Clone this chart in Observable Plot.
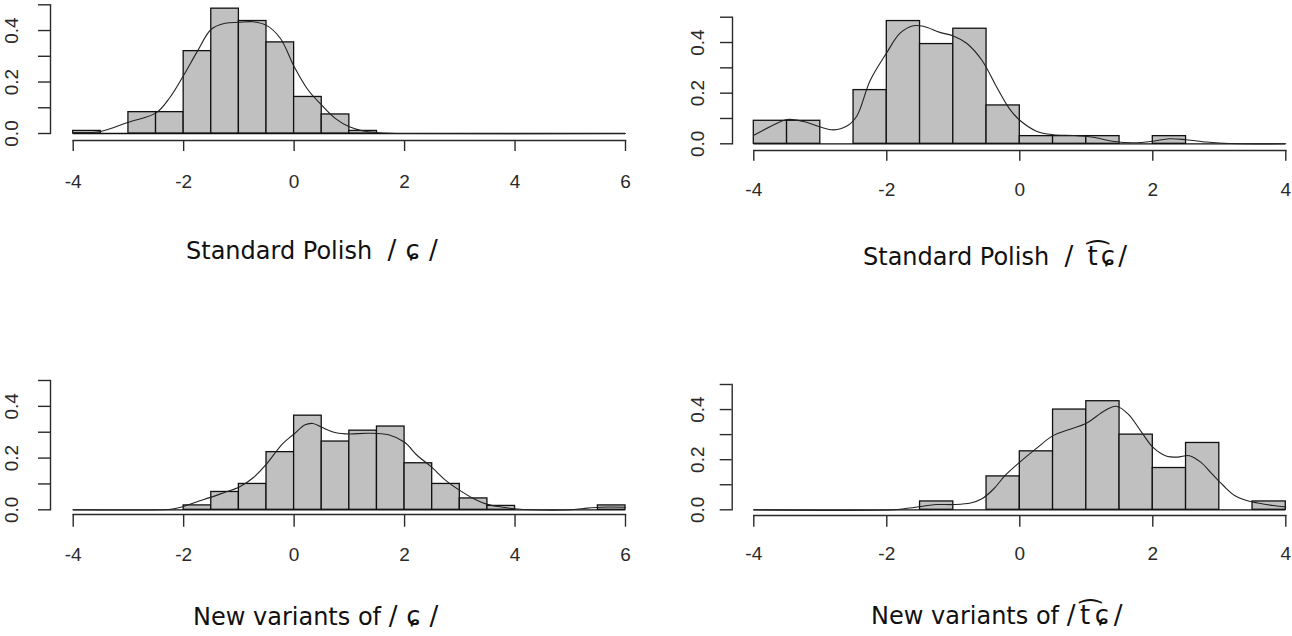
<!DOCTYPE html>
<html>
<head>
<meta charset="utf-8">
<script src="https://cdn.jsdelivr.net/npm/d3@7"></script>
<script src="https://cdn.jsdelivr.net/npm/@observablehq/plot@0.6"></script>
<style>
html, body { margin: 0; padding: 0; background: #fff; }
#root { position: relative; width: 1292px; height: 636px; overflow: hidden; background: #fff; }
.panel { position: absolute; }
.title { position: absolute; white-space: pre; font-family: "DejaVu Sans", sans-serif; font-size: 24px; line-height: 1; color: #111; }
.ipa { font-size: 26px; }
</style>
</head>
<body>
<div id="root"></div>
<script>
// ---------- data ----------
const breaksWide = [-4, -3.5, -3, -2.5, -2, -1.5, -1, -0.5, 0, 0.5, 1, 1.5, 2, 2.5, 3, 3.5, 4, 4.5, 5, 5.5, 6];
const breaksNarrow = [-4, -3.5, -3, -2.5, -2, -1.5, -1, -0.5, 0, 0.5, 1, 1.5, 2, 2.5, 3, 3.5, 4];

const xTicksWide = [-4, -2, 0, 2, 4, 6];
const xTicksNarrow = [-4, -2, 0, 2, 4];
const yTicks = [0, 0.1, 0.2, 0.3, 0.4, 0.5];
const yTickLabels = [0, 0.2, 0.4];

const titleWords = ["Standard Polish  ", "Standard Polish  ", "New variants of ", "New variants of "];
const titleIPA = ["/\u0255/", "/ t\u0361\u0255/", "/\u0255/", "/t\u0361\u0255/"];

// histogram densities (one value per bin)
const histStdS = [0.01, 0, 0.083, 0.083, 0.32, 0.485, 0.437, 0.354, 0.142, 0.074, 0.01, 0, 0, 0, 0, 0, 0, 0, 0, 0];
const histStdTS = [0.0909, 0.0909, 0, 0.2121, 0.4848, 0.3939, 0.4545, 0.1515, 0.0303, 0.0303, 0.0303, 0, 0.0303, 0, 0, 0];
const histNewS = [0, 0, 0, 0, 0.017, 0.069, 0.10, 0.223, 0.364, 0.264, 0.306, 0.322, 0.18, 0.10, 0.044, 0.015, 0, 0, 0, 0.017];
const histNewTS = [0, 0, 0, 0, 0, 0.0333, 0, 0.1333, 0.2333, 0.4, 0.4333, 0.3, 0.1667, 0.2667, 0, 0.0333];

// kernel density curves
const densStdSX = [-4, -3.5, -3, -2.5, -2.25, -2, -1.75, -1.5, -1.25, -1, -0.75, -0.5, -0.25, 0, 0.25, 0.5, 0.75, 1, 1.25, 1.5, 1.75, 2, 6];
const densStdSY = [0.004, 0.008, 0.044, 0.08, 0.14, 0.226, 0.32, 0.405, 0.428, 0.432, 0.434, 0.42, 0.37, 0.26, 0.17, 0.11, 0.058, 0.026, 0.01, 0.004, 0.001, 0, 0];

const densStdTSX = [-4, -3.75, -3.5, -3.25, -3, -2.8, -2.6, -2.45, -2.25, -2, -1.8, -1.6, -1.45, -1.2, -1, -0.8, -0.57, -0.34, -0.16, 0, 0.25, 0.5, 0.8, 1.1, 1.4, 1.7, 2, 2.25, 2.5, 2.8, 3, 3.3, 4];
const densStdTSY = [0.034, 0.068, 0.096, 0.088, 0.066, 0.055, 0.07, 0.11, 0.25, 0.36, 0.437, 0.466, 0.464, 0.44, 0.426, 0.397, 0.33, 0.22, 0.14, 0.093, 0.05, 0.036, 0.033, 0.026, 0.01, 0.004, 0.01, 0.02, 0.016, 0.007, 0.003, 0, 0];

const densNewSX = [-4, -2.4, -2.2, -2, -1.77, -1.5, -1.25, -1, -0.73, -0.5, -0.21, 0, 0.19, 0.34, 0.5, 0.76, 1, 1.34, 1.71, 2, 2.23, 2.49, 2.75, 3, 3.26, 3.5, 3.78, 4, 4.3, 5, 5.24, 5.54, 6];
const densNewSY = [0, 0, 0.003, 0.013, 0.03, 0.049, 0.068, 0.087, 0.126, 0.177, 0.255, 0.293, 0.328, 0.334, 0.319, 0.298, 0.293, 0.296, 0.29, 0.261, 0.21, 0.165, 0.113, 0.075, 0.042, 0.021, 0.01, 0.004, 0, 0, 0.005, 0.01, 0.01];

const densNewTSX = [-4, -1.9, -1.72, -1.49, -1.26, -1, -0.74, -0.57, -0.39, -0.22, 0, 0.24, 0.5, 0.73, 1, 1.28, 1.45, 1.63, 1.83, 2, 2.19, 2.37, 2.55, 2.72, 2.89, 3.06, 3.23, 3.41, 3.58, 3.81, 4];
const densNewTSY = [0, 0, 0.005, 0.013, 0.021, 0.021, 0.027, 0.044, 0.084, 0.137, 0.19, 0.243, 0.296, 0.319, 0.345, 0.396, 0.413, 0.382, 0.31, 0.25, 0.216, 0.21, 0.216, 0.19, 0.143, 0.097, 0.057, 0.037, 0.027, 0.017, 0.011];

// ---------- layout ----------
const panels = [
  {breaks: breaksWide, hist: histStdS, dx: densStdSX, dy: densStdSY, xTicks: xTicksWide, words: titleWords[0], ipa: titleIPA[0],
   L: {left: 0, top: 0, w: 646, h: 205, ml: 50, mr: 21, mt: 4.3, mb: 65, il: 22.7, ib: 7, ts: 11, tp: 23, ldx: -38.7},
   T: {left: 186, right: 447, base: 257}},
  {breaks: breaksNarrow, hist: histStdTS, dx: densStdTSX, dy: densStdTSY, xTicks: xTicksNarrow, words: titleWords[1], ipa: titleIPA[1],
   L: {left: 680, top: 0, w: 612, h: 215, ml: 52, mr: 6.7, mt: 16.7, mb: 65, il: 21.3, ib: 6.7, ts: 10.7, tp: 21, ldx: -35},
   T: {left: 863, right: 1130, base: 263}},
  {breaks: breaksWide, hist: histNewS, dx: densNewSX, dy: densNewSY, xTicks: xTicksWide, words: titleWords[2], ipa: titleIPA[2],
   L: {left: 0, top: 360, w: 646, h: 220, ml: 50, mr: 21, mt: 20, mb: 66, il: 22.7, ib: 4.7, ts: 12.7, tp: 20, ldx: -38.7},
   T: {left: 193, right: 447, base: 623}},
  {breaks: breaksNarrow, hist: histNewTS, dx: densNewTSX, dy: densNewTSY, xTicks: xTicksNarrow, words: titleWords[3], ipa: titleIPA[3],
   L: {left: 680, top: 360, w: 612, h: 220, ml: 51.7, mr: 6.7, mt: 24, mb: 65, il: 21.6, ib: 5.7, ts: 11.7, tp: 19, ldx: -34.7},
   T: {left: 871, right: 1127, base: 622}}
];

const AX = "#2a2a2a";
const FS = 19;
const root = document.getElementById("root");

for (const p of panels) {
  const L = p.L;
  const bins = p.hist.map((v, i) => ({x1: p.breaks[i], x2: p.breaks[i + 1], y: v})).filter(d => d.y > 0);
  const dens = p.dx.map((x, i) => ({x, y: p.dy[i]}));
  const xMin = p.breaks[0], xMax = p.breaks[p.breaks.length - 1];

  const chart = Plot.plot({
    width: L.w, height: L.h,
    marginLeft: L.ml, marginRight: L.mr, marginTop: L.mt, marginBottom: L.mb,
    x: {domain: [xMin, xMax], insetLeft: L.il, insetRight: 0, label: null},
    y: {domain: [0, 0.5], insetBottom: L.ib, insetTop: 0, label: null},
    style: {fontFamily: "'Liberation Sans', Arial, sans-serif", fontSize: FS + "px", color: AX, background: "transparent", overflow: "visible"},
    marks: [
      Plot.frame({anchor: "left", insetBottom: L.ib, stroke: AX, strokeWidth: 1.4}),
      Plot.frame({anchor: "bottom", insetLeft: L.il, stroke: AX, strokeWidth: 1.4}),
      Plot.axisX({ticks: p.xTicks, tickSize: L.ts, tickPadding: L.tp, tickFormat: d => String(d), label: null, stroke: AX, strokeWidth: 1.4, fill: AX, fontSize: FS}),
      Plot.axisY({ticks: yTicks, tickSize: 12, tickFormat: () => "", label: null, stroke: AX, strokeWidth: 1.4}),
      Plot.text(yTickLabels, {y: d => d, text: d => d.toFixed(1), frameAnchor: "left", dx: L.ldx, rotate: -90, textAnchor: "middle", lineAnchor: "middle", fill: AX, fontSize: FS}),
      Plot.ruleY([0], {x1: xMin, x2: xMax, stroke: "#111", strokeWidth: 1.3}),
      Plot.rectY(bins, {x1: "x1", x2: "x2", y: "y", fill: "#c0c0c0", stroke: "#111", strokeWidth: 1.3}),
      Plot.line(dens, {x: "x", y: "y", curve: "catmull-rom", stroke: "#222", strokeWidth: 1.1})
    ]
  });
  chart.classList.add("panel");
  chart.style.left = L.left + "px";
  chart.style.top = L.top + "px";
  root.appendChild(chart);

  // title: words at normal spacing, the IPA part spread to the reference width
  const t = document.createElement("div");
  t.className = "title";
  t.style.left = p.T.left + "px";
  t.style.top = (p.T.base - 0.846 * 24) + "px";
  const a = document.createElement("span");
  a.textContent = p.words;
  const b = document.createElement("span");
  b.className = "ipa";
  b.textContent = p.ipa;
  t.appendChild(a);
  t.appendChild(b);
  root.appendChild(t);
  const natural = t.getBoundingClientRect().width;
  const nChars = [...p.ipa].filter(c => c !== "\u0361").length;
  b.style.letterSpacing = Math.max(0, (p.T.right - p.T.left - natural) / nChars) + "px";
}
</script>
</body>
</html>
